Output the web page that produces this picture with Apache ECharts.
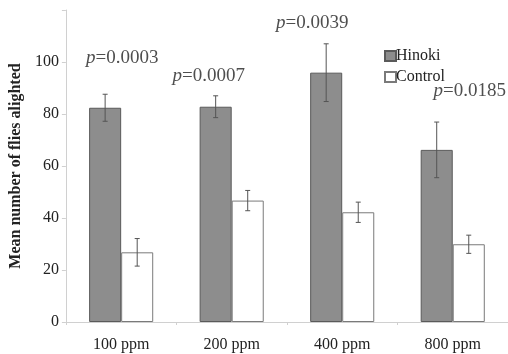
<!DOCTYPE html>
<html>
<head>
<meta charset="utf-8">
<script src="https://cdn.jsdelivr.net/npm/echarts@6/dist/echarts.min.js"></script>
<style>
  html, body { margin: 0; padding: 0; background: #fff; }
  #chart { width: 508px; height: 354px; }
</style>
</head>
<body>
<div id="chart"></div>
<script>
const chart = echarts.init(document.getElementById("chart"));

const categories = ["100 ppm", "200 ppm", "400 ppm", "800 ppm"];
const hinoki = [82.4, 82.8, 95.9, 66.2];
const hinokiErr = [5.2, 4.2, 11.1, 10.7];
const control = [26.8, 46.7, 42.2, 29.9];
const controlErr = [5.3, 3.9, 3.9, 3.5];
const pValues = ["0.0003", "0.0007", "0.0039", "0.0185"];

const SERIF = "Liberation Serif";

// error bars drawn over the bar with the given series index
function errorSeries(name, values, errs, offset) {
  return {
    type: "custom",
    name: name + "Err",
    z: 10,
    silent: true,
    data: values.map((v, i) => [i, v - errs[i], v + errs[i]]),
    renderItem(params, api) {
      const lo = api.coord([api.value(0), api.value(1)]);
      const hi = api.coord([api.value(0), api.value(2)]);
      const band = api.size([1, 0])[0];
      const x = lo[0] + offset * band;
      const cap = 2.5;
      const style = { stroke: "#555", lineWidth: 1 };
      return {
        type: "group",
        children: [
          { type: "line", shape: { x1: x, y1: lo[1], x2: x, y2: hi[1] }, style },
          { type: "line", shape: { x1: x - cap, y1: lo[1], x2: x + cap, y2: lo[1] }, style },
          { type: "line", shape: { x1: x - cap, y1: hi[1], x2: x + cap, y2: hi[1] }, style }
        ]
      };
    }
  };
}

// p-value labels: [category, y value, x offset px]
const pLabelPos = [[0, 101.5, 1], [1, 94.6, -23], [2, 115, -30], [3, 89, 17]];

chart.setOption({
  animation: false,
  textStyle: { fontFamily: SERIF },
  grid: { left: 64, right: 0, top: 10, bottom: 32 },
  legend: {
    orient: "vertical",
    left: 379,
    top: 43,
    itemWidth: 11,
    itemHeight: 10,
    itemGap: 5,
    icon: "rect",
    textStyle: { fontFamily: SERIF, fontSize: 16, color: "#222", padding: [0, 0, 0, -5] },
    data: ["Hinoki", "Control"]
  },
  xAxis: {
    type: "category",
    data: categories,
    axisLine: { lineStyle: { color: "#d0d0d0" } },
    axisTick: { show: true, length: 3, lineStyle: { color: "#d0d0d0" } },
    axisLabel: { fontFamily: SERIF, fontSize: 16, color: "#222", margin: 15 }
  },
  yAxis: {
    type: "value",
    min: 0,
    max: 120,
    interval: 20,
    name: "Mean number of flies alighted",
    nameLocation: "middle",
    nameGap: 37,
    nameTextStyle: { fontFamily: SERIF, fontSize: 16, fontWeight: "bold", color: "#222" },
    axisLine: { show: true, lineStyle: { color: "#d0d0d0" } },
    axisTick: { show: true, length: 4, lineStyle: { color: "#d0d0d0" } },
    splitLine: { show: false },
    axisLabel: {
      fontFamily: SERIF, fontSize: 16, color: "#222", margin: 7,
      formatter: v => (v === 120 ? "" : v)
    }
  },
  series: [
    {
      name: "Hinoki",
      type: "bar",
      data: hinoki,
      barWidth: "29%",
      barGap: "0%",
      itemStyle: { color: "#8d8d8d", borderColor: "#5a5a5a", borderWidth: 1 }
    },
    {
      name: "Control",
      type: "bar",
      data: control,
      barWidth: "29%",
      barGap: "0%",
      itemStyle: { color: "#ffffff", borderColor: "#7a7a7a", borderWidth: 1 }
    },
    errorSeries("Hinoki", hinoki, hinokiErr, -0.145),
    errorSeries("Control", control, controlErr, 0.145),
    {
      type: "scatter",
      symbolSize: 0,
      silent: true,
      data: pLabelPos.map((p, i) => ({
        value: [p[0], p[1]],
        label: {
          show: true,
          position: "inside",
          offset: [p[2], 0],
          formatter: "{i|p}=" + pValues[i],
          fontFamily: SERIF,
          fontSize: 19,
          color: "#222",
          rich: { i: { fontFamily: SERIF, fontStyle: "italic", fontSize: 19, color: "#222" } }
        }
      }))
    }
  ]
});
</script>
</body>
</html>
